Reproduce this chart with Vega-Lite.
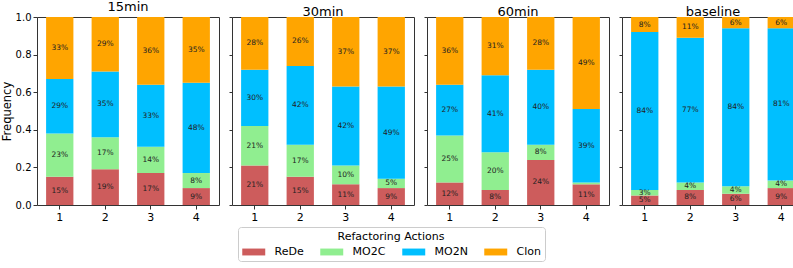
{
  "$schema": "https://vega.github.io/schema/vega-lite/v6.json",
  "padding": {"left": 0, "top": 0, "right": 2, "bottom": 0},
  "background": "white",
  "config": {
    "font": "DejaVu Sans",
    "view": {"stroke": "#333", "strokeWidth": 1},
    "axis": {"grid": false, "labelFont": "DejaVu Sans", "titleFont": "DejaVu Sans", "labelColor": "#000", "titleColor": "#000", "domain": false, "tickColor": "#333", "tickSize": 4, "labelOverlap": false},
    "title": {"font": "DejaVu Sans", "fontSize": 13, "fontWeight": "normal", "color": "#000", "offset": -2},
    "concat": {"spacing": 8},
    "legend": {
      "orient": "none", "legendX": 201, "legendY": 210, "direction": "horizontal",
      "titleFontSize": 11, "titleFontWeight": "normal", "titleAnchor": "middle", "titleColor": "#000", "titlePadding": 4,
      "labelFontSize": 11, "labelColor": "#000", "labelOffset": 14.75, "columnPadding": 16,
      "symbolType": "M-2,-0.6H2V0.6H-2Z", "symbolSize": 132, "symbolOffset": 5.75, "symbolStrokeWidth": 0, "symbolOpacity": 1,
      "strokeColor": "#ccc", "cornerRadius": 3, "padding": 4, "fillColor": "white"
    }
  },
  "data": {"values": [
    {"time":"15min","run":"1","action":"ReDe","freq":0.15},{"time":"15min","run":"1","action":"MO2C","freq":0.23},{"time":"15min","run":"1","action":"MO2N","freq":0.29},{"time":"15min","run":"1","action":"Clon","freq":0.33},
    {"time":"15min","run":"2","action":"ReDe","freq":0.19},{"time":"15min","run":"2","action":"MO2C","freq":0.17},{"time":"15min","run":"2","action":"MO2N","freq":0.35},{"time":"15min","run":"2","action":"Clon","freq":0.29},
    {"time":"15min","run":"3","action":"ReDe","freq":0.17},{"time":"15min","run":"3","action":"MO2C","freq":0.14},{"time":"15min","run":"3","action":"MO2N","freq":0.33},{"time":"15min","run":"3","action":"Clon","freq":0.36},
    {"time":"15min","run":"4","action":"ReDe","freq":0.09},{"time":"15min","run":"4","action":"MO2C","freq":0.08},{"time":"15min","run":"4","action":"MO2N","freq":0.48},{"time":"15min","run":"4","action":"Clon","freq":0.35},
    {"time":"30min","run":"1","action":"ReDe","freq":0.21},{"time":"30min","run":"1","action":"MO2C","freq":0.21},{"time":"30min","run":"1","action":"MO2N","freq":0.30},{"time":"30min","run":"1","action":"Clon","freq":0.28},
    {"time":"30min","run":"2","action":"ReDe","freq":0.15},{"time":"30min","run":"2","action":"MO2C","freq":0.17},{"time":"30min","run":"2","action":"MO2N","freq":0.42},{"time":"30min","run":"2","action":"Clon","freq":0.26},
    {"time":"30min","run":"3","action":"ReDe","freq":0.11},{"time":"30min","run":"3","action":"MO2C","freq":0.10},{"time":"30min","run":"3","action":"MO2N","freq":0.42},{"time":"30min","run":"3","action":"Clon","freq":0.37},
    {"time":"30min","run":"4","action":"ReDe","freq":0.09},{"time":"30min","run":"4","action":"MO2C","freq":0.05},{"time":"30min","run":"4","action":"MO2N","freq":0.49},{"time":"30min","run":"4","action":"Clon","freq":0.37},
    {"time":"60min","run":"1","action":"ReDe","freq":0.12},{"time":"60min","run":"1","action":"MO2C","freq":0.25},{"time":"60min","run":"1","action":"MO2N","freq":0.27},{"time":"60min","run":"1","action":"Clon","freq":0.36},
    {"time":"60min","run":"2","action":"ReDe","freq":0.08},{"time":"60min","run":"2","action":"MO2C","freq":0.20},{"time":"60min","run":"2","action":"MO2N","freq":0.41},{"time":"60min","run":"2","action":"Clon","freq":0.31},
    {"time":"60min","run":"3","action":"ReDe","freq":0.24},{"time":"60min","run":"3","action":"MO2C","freq":0.08},{"time":"60min","run":"3","action":"MO2N","freq":0.40},{"time":"60min","run":"3","action":"Clon","freq":0.28},
    {"time":"60min","run":"4","action":"ReDe","freq":0.11},{"time":"60min","run":"4","action":"MO2C","freq":0.01},{"time":"60min","run":"4","action":"MO2N","freq":0.39},{"time":"60min","run":"4","action":"Clon","freq":0.49},
    {"time":"baseline","run":"1","action":"ReDe","freq":0.05},{"time":"baseline","run":"1","action":"MO2C","freq":0.03},{"time":"baseline","run":"1","action":"MO2N","freq":0.84},{"time":"baseline","run":"1","action":"Clon","freq":0.08},
    {"time":"baseline","run":"2","action":"ReDe","freq":0.08},{"time":"baseline","run":"2","action":"MO2C","freq":0.04},{"time":"baseline","run":"2","action":"MO2N","freq":0.77},{"time":"baseline","run":"2","action":"Clon","freq":0.11},
    {"time":"baseline","run":"3","action":"ReDe","freq":0.06},{"time":"baseline","run":"3","action":"MO2C","freq":0.04},{"time":"baseline","run":"3","action":"MO2N","freq":0.84},{"time":"baseline","run":"3","action":"Clon","freq":0.06},
    {"time":"baseline","run":"4","action":"ReDe","freq":0.09},{"time":"baseline","run":"4","action":"MO2C","freq":0.04},{"time":"baseline","run":"4","action":"MO2N","freq":0.81},{"time":"baseline","run":"4","action":"Clon","freq":0.06}
  ]},
  "transform": [
    {"calculate": "indexof(['ReDe','MO2C','MO2N','Clon'], datum.action)", "as": "ord"},
    {"stack": "freq", "groupby": ["time", "run"], "sort": [{"field": "ord"}], "as": ["y0", "y1"]},
    {"calculate": "(datum.y0 + datum.y1) / 2", "as": "ymid"}
  ],
  "hconcat": [
    {
      "title": "15min", "width": 182, "height": 188,
      "transform": [{"filter": "datum.time == '15min'"}],
      "encoding": {
        "x": {"field": "run", "type": "nominal", "scale": {"paddingInner": 0.4, "paddingOuter": 0.2}, "axis": {"title": null, "labelAngle": 0, "labelFontSize": 11, "labelPadding": 2}}
      },
      "layer": [
        {"mark": {"type": "bar"}, "encoding": {
          "y": {"field": "y0", "type": "quantitative", "scale": {"domain": [0, 1], "nice": false}, "axis": {"title": "Frequency", "titleFontSize": 11.5, "titleFontWeight": "normal", "labelFontSize": 10, "values": [0, 0.2, 0.4, 0.6, 0.8, 1.0], "format": ".1f", "titlePadding": 3, "labelPadding": 2, "labelOverlap": false, "labelFlush": false, "labelBound": false}},
          "y2": {"field": "y1"},
          "color": {"field": "action", "type": "nominal", "title": "Refactoring Actions", "scale": {"domain": ["ReDe", "MO2C", "MO2N", "Clon"], "range": ["#CD5C5C", "#90EE90", "#00BFFF", "#FFA500"]}}
        }},
        {"transform": [{"filter": "datum.freq >= 0.02"}], "mark": {"type": "text", "fontSize": 7.5, "color": "#222"}, "encoding": {
          "y": {"field": "ymid", "type": "quantitative", "axis": {"title": "Frequency", "titleFontSize": 11.5, "titleFontWeight": "normal", "labelFontSize": 10, "values": [0, 0.2, 0.4, 0.6, 0.8, 1.0], "format": ".1f", "titlePadding": 3, "labelPadding": 2, "labelOverlap": false, "labelFlush": false, "labelBound": false}},
          "text": {"field": "freq", "type": "quantitative", "format": ".0%"}
        }}
      ]
    },
    {
      "title": "30min", "width": 182, "height": 188,
      "transform": [{"filter": "datum.time == '30min'"}],
      "encoding": {
        "x": {"field": "run", "type": "nominal", "scale": {"paddingInner": 0.4, "paddingOuter": 0.2}, "axis": {"title": null, "labelAngle": 0, "labelFontSize": 11, "labelPadding": 2}}
      },
      "layer": [
        {"mark": {"type": "bar"}, "encoding": {
          "y": {"field": "y0", "type": "quantitative", "scale": {"domain": [0, 1], "nice": false}, "axis": {"title": null, "labels": false, "values": [0, 0.2, 0.4, 0.6, 0.8, 1.0], "tickSize": 3}},
          "y2": {"field": "y1"},
          "color": {"field": "action", "type": "nominal", "title": "Refactoring Actions", "scale": {"domain": ["ReDe", "MO2C", "MO2N", "Clon"], "range": ["#CD5C5C", "#90EE90", "#00BFFF", "#FFA500"]}}
        }},
        {"transform": [{"filter": "datum.freq >= 0.02"}], "mark": {"type": "text", "fontSize": 7.5, "color": "#222"}, "encoding": {
          "y": {"field": "ymid", "type": "quantitative", "axis": {"title": null, "labels": false, "values": [0, 0.2, 0.4, 0.6, 0.8, 1.0], "tickSize": 3}},
          "text": {"field": "freq", "type": "quantitative", "format": ".0%"}
        }}
      ]
    },
    {
      "title": "60min", "width": 182, "height": 188,
      "transform": [{"filter": "datum.time == '60min'"}],
      "encoding": {
        "x": {"field": "run", "type": "nominal", "scale": {"paddingInner": 0.4, "paddingOuter": 0.2}, "axis": {"title": null, "labelAngle": 0, "labelFontSize": 11, "labelPadding": 2}}
      },
      "layer": [
        {"mark": {"type": "bar"}, "encoding": {
          "y": {"field": "y0", "type": "quantitative", "scale": {"domain": [0, 1], "nice": false}, "axis": {"title": null, "labels": false, "values": [0, 0.2, 0.4, 0.6, 0.8, 1.0], "tickSize": 3}},
          "y2": {"field": "y1"},
          "color": {"field": "action", "type": "nominal", "title": "Refactoring Actions", "scale": {"domain": ["ReDe", "MO2C", "MO2N", "Clon"], "range": ["#CD5C5C", "#90EE90", "#00BFFF", "#FFA500"]}}
        }},
        {"transform": [{"filter": "datum.freq >= 0.02"}], "mark": {"type": "text", "fontSize": 7.5, "color": "#222"}, "encoding": {
          "y": {"field": "ymid", "type": "quantitative", "axis": {"title": null, "labels": false, "values": [0, 0.2, 0.4, 0.6, 0.8, 1.0], "tickSize": 3}},
          "text": {"field": "freq", "type": "quantitative", "format": ".0%"}
        }}
      ]
    },
    {
      "title": "baseline", "width": 182, "height": 188,
      "transform": [{"filter": "datum.time == 'baseline'"}],
      "encoding": {
        "x": {"field": "run", "type": "nominal", "scale": {"paddingInner": 0.4, "paddingOuter": 0.2}, "axis": {"title": null, "labelAngle": 0, "labelFontSize": 11, "labelPadding": 2}}
      },
      "layer": [
        {"mark": {"type": "bar"}, "encoding": {
          "y": {"field": "y0", "type": "quantitative", "scale": {"domain": [0, 1], "nice": false}, "axis": {"title": null, "labels": false, "values": [0, 0.2, 0.4, 0.6, 0.8, 1.0], "tickSize": 3}},
          "y2": {"field": "y1"},
          "color": {"field": "action", "type": "nominal", "title": "Refactoring Actions", "scale": {"domain": ["ReDe", "MO2C", "MO2N", "Clon"], "range": ["#CD5C5C", "#90EE90", "#00BFFF", "#FFA500"]}}
        }},
        {"transform": [{"filter": "datum.freq >= 0.02"}], "mark": {"type": "text", "fontSize": 7.5, "color": "#222"}, "encoding": {
          "y": {"field": "ymid", "type": "quantitative", "axis": {"title": null, "labels": false, "values": [0, 0.2, 0.4, 0.6, 0.8, 1.0], "tickSize": 3}},
          "text": {"field": "freq", "type": "quantitative", "format": ".0%"}
        }}
      ]
    }
  ]
}
